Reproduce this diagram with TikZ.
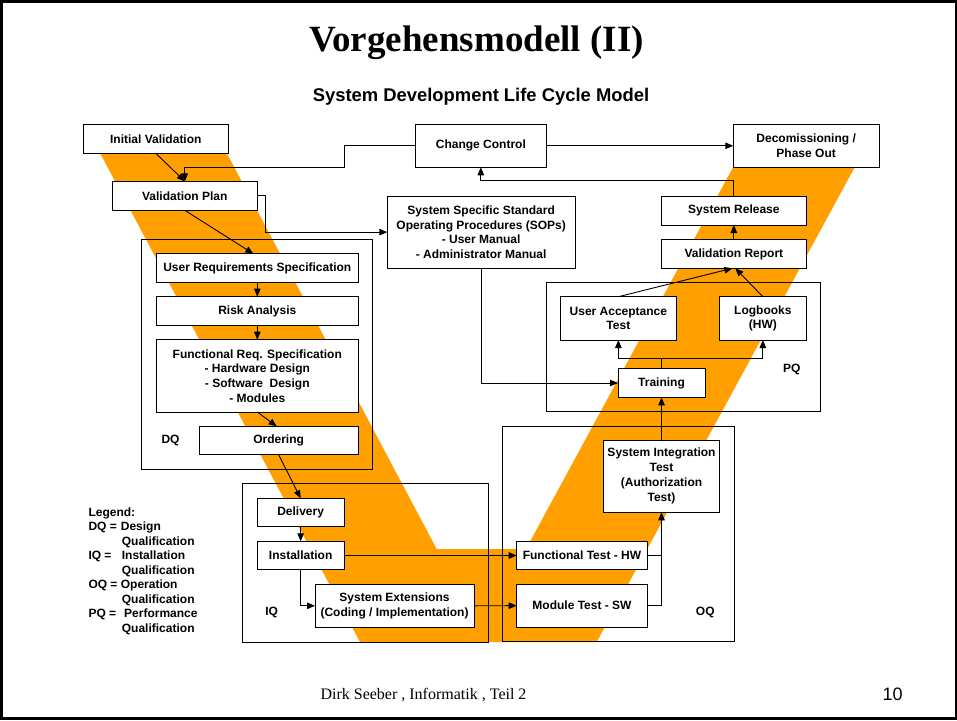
\documentclass[tikz,border=0pt]{standalone}
\usepackage{fontspec}
\usepackage{graphicx}
\setmainfont{Liberation Serif}
\newfontfamily\arialf{Liberation Sans}
\usetikzlibrary{arrows.meta,calc}
\definecolor{vorange}{RGB}{255,160,0}
\begin{document}
\begin{tikzpicture}[x=1pt,y=-1pt,
  box/.style={draw=black, fill=white, line width=0.8pt, inner sep=0pt, outer sep=0pt, align=center,
    font=\arialf\bfseries\fontsize{12}{14.7}\selectfont},
  cont/.style={draw=black, line width=0.8pt},
  lbl/.style={inner sep=0pt, font=\arialf\bfseries\fontsize{12}{14.7}\selectfont},
  ln/.style={draw=black, line width=0.9pt},
  arr/.style={ln, -{Triangle[length=8pt,width=6.5pt]}}]
\useasboundingbox (0,0) rectangle (957,720);
\draw[line width=2.5pt] (1.25,1.25) rectangle (955.75,718.5);

% the V band
\fill[vorange] (84.6,124) -- (211.3,124) -- (436.7,549) -- (526,549) -- (742.4,150) -- (864.1,150)
  -- (596.7,642) -- (360,642) -- cycle;

% containers
\draw[cont] (141.7,239.3) rectangle (372.3,469);
\draw[cont] (546.3,282.7) rectangle (820,411.7);
\draw[cont] (242.3,483.3) rectangle (488.3,642);
\draw[cont] (502.3,426) rectangle (734,641.7);

% titles
\node[font=\bfseries\fontsize{37}{37}\selectfont, anchor=base, inner sep=0pt] (title) at (476.5,51) {Vorgehensmodell (II)};
\node[font=\arialf\bfseries\fontsize{18.4}{18.4}\selectfont, anchor=base, inner sep=0pt] (sub) at (481,101) {System Development Life Cycle Model};
\node[font=\fontsize{16}{16}\selectfont, anchor=base, inner sep=0pt] (foot) at (423.5,699) {Dirk Seeber , Informatik , Teil 2};
\node[font=\arialf\fontsize{18}{18}\selectfont, anchor=base, inner sep=0pt] (pg) at (892.5,700) {10};

% boxes
\node[box, minimum width=145pt, minimum height=29pt] (IV) at (155.8,138.8) {Initial Validation};
\node[box, minimum width=145pt, minimum height=29pt] (VP) at (184.8,195.8) {Validation Plan};
\node[box, minimum width=130.3pt, minimum height=43pt] (CC) at (480.85,145.8) {Change Control};
\node[box, minimum width=145.7pt, minimum height=43pt] (DEC) at (806.15,145.8) {Decomissioning /\\Phase Out};
\node[box, minimum width=187.7pt, minimum height=71.7pt] (SOP) at (481.15,232.15) {System Specific Standard\\Operating Procedures (SOPs)\\- User Manual\\- Administrator Manual};
\node[box, minimum width=144.3pt, minimum height=28.7pt] (SR) at (733.85,210.65) {System Release};
\node[box, minimum width=144.3pt, minimum height=28.6pt] (VR) at (733.85,254) {Validation Report};
\node[box, minimum width=202pt, minimum height=28.6pt] (URS) at (257.3,268) {User Requirements Specification};
\node[box, minimum width=202pt, minimum height=28.6pt] (RA) at (257.3,311) {Risk Analysis};
\node[box, minimum width=202pt, minimum height=72.3pt] (FRS) at (257.3,375.85) {Functional Req. Specification\\- Hardware Design\\- Software~ Design\\- Modules};
\node[box, minimum width=159.3pt, minimum height=28.4pt] (ORD) at (278.65,440.5) {Ordering};
\node[box, minimum width=115.3pt, minimum height=43.3pt] (UAT) at (618.35,318.35) {User Acceptance\\Test};
\node[box, minimum width=86.3pt, minimum height=43.3pt] (LB) at (762.85,318.35) {Logbooks\\(HW)};
\node[box, minimum width=87pt, minimum height=28.6pt] (TR) at (661.5,383) {Training};
\node[box, minimum width=86.7pt, minimum height=28.4pt] (DEL) at (300.65,512.5) {Delivery};
\node[box, minimum width=86.7pt, minimum height=28.4pt] (INS) at (300.65,555.5) {Installation};
\node[box, minimum width=159pt, minimum height=43pt] (SE) at (394.5,605.8) {System Extensions\\(Coding / Implementation)};
\node[box, minimum width=115.6pt, minimum height=72pt, font=\arialf\bfseries\fontsize{12}{15}\selectfont] (SIT) at (661.5,476.3) {System Integration\\Test\\(Authorization\\Test)};
\node[box, minimum width=130.6pt, minimum height=28.4pt] (FT) at (582,555.5) {Functional Test - HW};
\node[box, minimum width=130.6pt, minimum height=43.3pt] (MT) at (582,605.65) {Module Test - SW};

% container labels
\node[lbl] (dq) at (170.5,440) {DQ};
\node[lbl] (iq) at (271.7,612.7) {IQ};
\node[lbl] (oq) at (705.3,612.7) {OQ};
\node[lbl] (pq) at (791.7,369) {PQ};

% legend
\node[lbl, align=left, anchor=north west, font=\arialf\bfseries\fontsize{12}{14.5}\selectfont] (leg) at (88.3,507.3) {Legend:\\
\makebox[32.4pt][l]{DQ =}Design\\
\hspace*{33.4pt}Qualification\\
\makebox[33.4pt][l]{IQ =}Installation\\
\hspace*{33.4pt}Qualification\\
\makebox[32.4pt][l]{OQ =}Operation\\
\hspace*{33.4pt}Qualification\\
\makebox[35.7pt][l]{PQ =}Performance\\
\hspace*{33.4pt}Qualification};

% helper coordinates
\coordinate (cc1) at (344,167.3);
\coordinate (vp1) at (265.7,195.8);
\coordinate (sr1) at (733.85,180.3);
\coordinate (br) at (661.5,358);

% connectors
\draw[arr] (IV.south) -- (VP.north);
\draw[arr] (CC.west) -| (cc1) -| (VP.north);
\draw[arr] (VP.east) -- (vp1) |- (SOP.west);
\draw[arr] (VP.south) -- ($(URS.north)+(-4,0)$);
\draw[arr] (URS.south) -- (RA.north);
\draw[arr] (RA.south) -- (FRS.north);
\draw[arr] (FRS.south) -- ($(ORD.north)+(-2,0)$);
\draw[arr] (ORD.south) -- (DEL.north);
\draw[arr] (DEL.south) -- (INS.north);
\draw[arr] (INS.south) |- (SE.west);
\draw[arr] (INS.east) -- (FT.west);
\draw[arr] (SE.east) -- (MT.west);
\draw[arr] (FT.east) -| (SIT.south);
\draw[ln] (MT.east) -| (FT.east -| SIT.south);
\draw[arr] (SIT.north) -- (TR.south);
\draw[arr] (SOP.south) |- (TR.west);
\draw[ln] (TR.north) -- (br);
\draw[arr] (br) -| (UAT.south);
\draw[arr] (br) -| (LB.south);
\draw[arr] (UAT.north) -- ($(VR.south)+(-1.5,0)$);
\draw[arr] (LB.north) -- ($(VR.south)+(1.5,0)$);
\draw[arr] (VR.north) -- (SR.south);
\draw[arr] (SR.north) -- (sr1) -| (CC.south);
\draw[arr] (CC.east) -- (DEC.west);
\end{tikzpicture}
\end{document}
